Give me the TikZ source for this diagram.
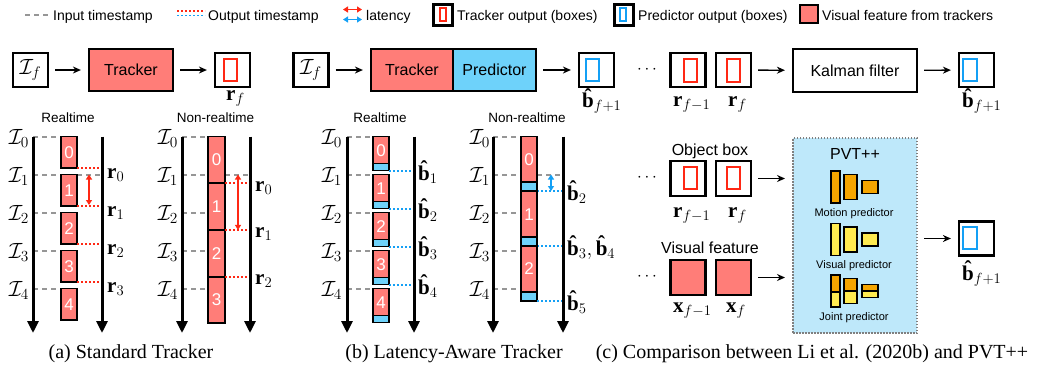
\RequirePackage{fix-cm}
\documentclass[tikz,border=0pt]{standalone}
\usepackage{fontspec}
\setmainfont{Liberation Serif}
\newfontfamily\hv{Liberation Sans}
\usetikzlibrary{arrows.meta}

\definecolor{trk}{RGB}{255,125,120}
\definecolor{prd}{RGB}{110,210,250}
\definecolor{rline}{RGB}{255,40,20}
\definecolor{bline}{RGB}{20,160,245}
\definecolor{pvtbg}{RGB}{190,232,250}
\definecolor{mot}{RGB}{245,165,0}
\definecolor{vis}{RGB}{255,235,80}
\definecolor{inpgray}{RGB}{150,150,150}

% bold b carrying a circumflex accent
\newcommand{\bhat}{\mbox{\bfseries\accent"02C6 b}}

\begin{document}
\begin{tikzpicture}[x=1pt,y=-1pt,
  frame/.style={draw,line width=2.2pt,minimum width=35pt,minimum height=34pt,inner sep=0pt},
  blk/.style={draw,line width=2.2pt,inner sep=0pt,minimum height=42pt,font=\hv\fontsize{16}{18}\selectfont},
  arr/.style={-{Stealth[length=8pt,width=7pt]},line width=1.3pt,shorten <=6pt,shorten >=7pt},
  tline/.style={-{Triangle[length=12pt,width=11pt]},line width=3pt},
  inp/.style={draw=inpgray,line width=2pt,dash pattern=on 5pt off 4pt},
  rout/.style={draw=rline,line width=2pt,dash pattern=on 2pt off 2pt},
  bout/.style={draw=bline,line width=2pt,dash pattern=on 2pt off 2pt},
  lat/.style={{Triangle[length=5pt,width=6pt]}-{Triangle[length=5pt,width=6pt]},line width=1.5pt},
  seg/.style={draw,line width=1.8pt},
  mlab/.style={font=\fontsize{21}{24}\selectfont,inner sep=0pt,anchor=base west},
  ilab/.style={font=\fontsize{22}{25}\selectfont,inner sep=0pt,anchor=base},
  sub/.style={font=\hv\fontsize{13.5}{16}\selectfont,inner sep=0pt,anchor=base},
  dig/.style={text=white,font=\hv\fontsize{17}{20}\selectfont,inner sep=0pt},
  leg/.style={font=\hv\fontsize{14}{16}\selectfont,inner sep=0pt,anchor=base west},
  captxt/.style={font=\fontsize{20}{22}\selectfont,inner sep=0pt,anchor=base},
  ptxt/.style={font=\hv\fontsize{11}{13}\selectfont,inner sep=0pt,anchor=base},
  bar/.style={draw,line width=1.8pt}]

\useasboundingbox (0,0) rectangle (1048,368);

% ---------- legend ----------
\draw[inp] (25,15) -- (48,15);
\node[leg] (lg1) at (53,20.5) {Input timestamp};
\draw[rout,line width=1.6pt] (177,11) -- (205,11);
\draw[bout,line width=1.6pt] (177,15.5) -- (205,15.5);
\node[leg] (lg2) at (208,20.5) {Output timestamp};
\draw[lat,rline] (343,9.5) -- (362,9.5);
\draw[lat,bline] (343,19.5) -- (362,19.5);
\node[leg] (lg3) at (366,20.5) {latency};
\draw[line width=3pt] (433,4) rectangle (452,25);
\draw[rline,line width=2pt] (440,8) rectangle (446,21);
\node[leg] (lg4) at (457,20.5) {Tracker output (boxes)};
\draw[line width=3pt] (614,4) rectangle (633,25);
\draw[bline,line width=2pt] (620,8) rectangle (626,21);
\node[leg] (lg5) at (638,20.5) {Predictor output (boxes)};
\draw[line width=2.5pt,fill=trk] (800,5) rectangle (818,23);
\node[leg] (lg6) at (822,20.5) {Visual feature from trackers};

% ---------- (a) standard tracker ----------
\node[frame,font=\fontsize{22}{25}\selectfont] (ifa) at (30.5,70) {$\mathcal{I}_f$};
\node[blk,fill=trk,minimum width=84pt] (trka) at (131,70) {Tracker};
\node[frame] (outa) at (232.5,70) {};
\draw[rline,line width=2pt] (223.5,59) rectangle (236.5,81);
\draw[arr] (ifa) -- (trka);
\draw[arr] (trka) -- (outa);
\node[mlab] (rfa) at (226,100) {$\mathbf{r}_f$};

\node[sub] (rta) at (68,122) {Realtime};
\node[sub] (nrta) at (215.5,122) {Non-realtime};

% realtime timeline
\foreach \k in {0,...,4}{
  \draw[inp] (33,{136.5+38*\k}) -- (61,{136.5+38*\k});
  \node[ilab] (ia\k) at (19,{144+38*\k}) {$\mathcal{I}_{\k}$};
}
\draw[inp] (77,174.5) -- (102,174.5);
\foreach \k in {0,...,4}{
  \draw[seg,fill=trk] (61,{136.5+38*\k}) rectangle (77,{168+38*\k});
  \node[dig] (da\k) at (69,{152.5+38*\k}) {\k};
}
\foreach \k in {0,...,3}{
  \draw[rout] (77,{168+38*\k}) -- (102,{168+38*\k});
  \node[mlab] (ra\k) at (107,{178+38*\k}) {$\mathbf{r}_{\k}$};
}
\draw[lat,rline] (89,174.5) -- (89,205);
\draw[tline] (33,136.5) -- (33,333);
\draw[tline] (102,136.5) -- (102,333);

% non-realtime timeline
\foreach \k in {0,...,4}{
  \draw[inp] (182,{136.5+38*\k}) -- (208,{136.5+38*\k});
  \node[ilab] (ib\k) at (168,{144+38*\k}) {$\mathcal{I}_{\k}$};
}
\draw[inp] (225,174.5) -- (250,174.5);
\foreach \k in {0,...,3}{
  \draw[seg,fill=trk] (208,{136.5+46.7*\k}) rectangle (225,{183.2+46.7*\k});
  \node[dig] (db\k) at (216.5,{160+46.7*\k}) {\k};
}
\foreach \k in {0,...,2}{
  \draw[rout] (225,{183.2+46.7*\k}) -- (250,{183.2+46.7*\k});
  \node[mlab] (rb\k) at (255,{191+46.7*\k}) {$\mathbf{r}_{\k}$};
}
\draw[lat,rline] (238,174.5) -- (238,229.9);
\draw[tline] (182,136.5) -- (182,333);
\draw[tline] (250,136.5) -- (250,333);

% ---------- (b) latency-aware tracker ----------
\node[frame,font=\fontsize{22}{25}\selectfont] (ifb) at (311,70) {$\mathcal{I}_f$};
\node[blk,fill=trk,minimum width=82pt] (trkb) at (412,70) {Tracker};
\node[blk,fill=prd,minimum width=83pt] (prdb) at (494.5,70) {Predictor};
\node[frame] (outb) at (596.5,70) {};
\draw[bline,line width=2pt] (586,59) rectangle (599,81);
\draw[arr] (ifb) -- (trkb);
\draw[arr] (prdb) -- (outb);
\node[mlab] (bfb) at (582,107.5) {$\bhat_{f+1}$};

\node[sub] (rtb) at (380,122) {Realtime};
\node[sub] (nrtb) at (527,122) {Non-realtime};

% realtime timeline
\foreach \k in {0,...,4}{
  \draw[inp] (347,{136.5+38*\k}) -- (373,{136.5+38*\k});
  \node[ilab] (ic\k) at (332,{144+38*\k}) {$\mathcal{I}_{\k}$};
  \draw[seg,fill=trk] (373,{136.5+38*\k}) rectangle (389,{163.5+38*\k});
  \draw[seg,fill=prd] (373,{163.5+38*\k}) rectangle (389,{170.5+38*\k});
  \node[dig] (dc\k) at (381,{150.5+38*\k}) {\k};
}
\foreach \k [evaluate=\k as \n using int(\k+1)] in {0,...,3}{
  \draw[bout] (389,{170.5+38*\k}) -- (414,{170.5+38*\k});
  \node[mlab] (bc\k) at (418,{180+38*\k}) {$\bhat_{\n}$};
}
\draw[tline] (347,136.5) -- (347,333);
\draw[tline] (414,136.5) -- (414,333);

% non-realtime timeline
\foreach \k in {0,...,4}{
  \draw[inp] (493,{136.5+38*\k}) -- (521,{136.5+38*\k});
  \node[ilab] (id\k) at (480,{144+38*\k}) {$\mathcal{I}_{\k}$};
}
\draw[inp] (537,174.5) -- (563,174.5);
\foreach \k in {0,...,2}{
  \draw[seg,fill=trk] (521,{136.5+54.75*\k}) rectangle (537,{182.25+54.75*\k});
  \draw[seg,fill=prd] (521,{182.25+54.75*\k}) rectangle (537,{191.25+54.75*\k});
  \node[dig] (dd\k) at (529,{159.5+54.75*\k}) {\k};
  \draw[bout] (537,{191.25+54.75*\k}) -- (563,{191.25+54.75*\k});
}
\node[mlab] (bd2) at (567,200) {$\bhat_2$};
\node[mlab] (bd3) at (567,255) {$\bhat_3, \bhat_4$};
\node[mlab] (bd5) at (567,310) {$\bhat_5$};
\draw[lat,bline] (551,174.5) -- (551,191);
\draw[tline] (493,136.5) -- (493,333);
\draw[tline] (563,136.5) -- (563,333);

% ---------- (c) Kalman filter vs PVT++ ----------
\node[font=\fontsize{17}{20}\selectfont,inner sep=0pt] (dk) at (647,70) {$\cdots$};
\node[frame] (kr1) at (688,70) {};
\draw[rline,line width=2pt] (683.5,59) rectangle (696.5,82);
\node[frame] (kr0) at (733.5,70) {};
\draw[rline,line width=2pt] (726.5,59) rectangle (739.5,82);
\node[mlab] (lkr1) at (673,106) {$\mathbf{r}_{f-1}$};
\node[mlab] (lkr0) at (728,106) {$\mathbf{r}_f$};
\node[blk,minimum width=124pt,minimum height=43pt] (kal) at (855,70.5) {Kalman filter};
\node[frame] (outk) at (976.5,70) {};
\draw[bline,line width=2pt] (963,59) rectangle (977,81);
\draw[arr] (kr0) -- (kal);
\draw[arr] (kal) -- (outk);
\node[mlab] (lbk) at (962,107.5) {$\bhat_{f+1}$};

% PVT++ inputs
\node[font=\hv\fontsize{16}{18}\selectfont,inner sep=0pt,anchor=base] (objt) at (710,155.5) {Object box};
\node[font=\fontsize{17}{20}\selectfont,inner sep=0pt] (do) at (647,178) {$\cdots$};
\node[frame,minimum height=35pt] (or1) at (688,178.5) {};
\draw[rline,line width=2pt] (683.5,167) rectangle (696.5,189);
\node[frame,minimum height=35pt] (or0) at (733.5,178.5) {};
\draw[rline,line width=2pt] (726.5,167) rectangle (739.5,189);
\node[mlab] (lor1) at (673,217) {$\mathbf{r}_{f-1}$};
\node[mlab] (lor0) at (728,217) {$\mathbf{r}_f$};

\node[font=\hv\fontsize{16}{18}\selectfont,inner sep=0pt,anchor=base] (vist) at (710,253.5) {Visual feature};
\node[font=\fontsize{17}{20}\selectfont,inner sep=0pt] (dv) at (647,277) {$\cdots$};
\node[frame,fill=trk,minimum height=35pt] (vx1) at (688,277.5) {};
\node[frame,fill=trk,minimum height=35pt] (vx0) at (733.5,277.5) {};
\node[mlab] (lvx1) at (673,312) {$\mathbf{x}_{f-1}$};
\node[mlab] (lvx0) at (726,312) {$\mathbf{x}_f$};

% PVT++ block
\node[draw=gray,line width=2pt,dash pattern=on 1.5pt off 1.5pt,fill=pvtbg,
      minimum width=124pt,minimum height=195pt,inner sep=0pt] (pvt) at (855,235.5) {};
\node[font=\hv\fontsize{16}{18}\selectfont,inner sep=0pt,anchor=base] (pvtt) at (855,159) {PVT++};
\draw[arr] (or0.east) -- (or0.east -| pvt.west);
\draw[arr] (vx0.east) -- (vx0.east -| pvt.west);

% motion predictor
\draw[bar,fill=mot] (831,171) rectangle (840,203);
\draw[bar,fill=mot] (844,174.5) rectangle (857,199.5);
\draw[bar,fill=mot] (862,180.5) rectangle (878,193.5);
\node[ptxt] (mp) at (854,216) {Motion predictor};
% visual predictor
\draw[bar,fill=vis] (831,223.5) rectangle (840,255.5);
\draw[bar,fill=vis] (844,227) rectangle (857,252);
\draw[bar,fill=vis] (862,233) rectangle (878,246);
\node[ptxt] (vp) at (854,268) {Visual predictor};
% joint predictor
\draw[bar,fill=mot] (831,275) rectangle (840,292);
\draw[bar,fill=vis] (831,292) rectangle (840,307);
\draw[bar,fill=mot] (844,278.5) rectangle (857,291);
\draw[bar,fill=vis] (844,291) rectangle (857,303.5);
\draw[bar,fill=mot] (862,284.5) rectangle (878,291);
\draw[bar,fill=vis] (862,291) rectangle (878,297.5);
\node[ptxt] (jp) at (854,320) {Joint predictor};

\node[frame] (outp) at (976.5,238.5) {};
\draw[bline,line width=2pt] (963,227) rectangle (977,249);
\draw[arr] (pvt.east |- outp) -- (outp);
\node[mlab] (lbp) at (962,280) {$\bhat_{f+1}$};

% ---------- captions ----------
\node[captxt] (ca) at (131,358) {(a) Standard Tracker};
\node[captxt] (cb) at (454,358) {(b) Latency-Aware Tracker};
\node[captxt] (cc) at (812,358) {(c) Comparison between Li et al. (2020b) and PVT++};
\end{tikzpicture}
\end{document}
